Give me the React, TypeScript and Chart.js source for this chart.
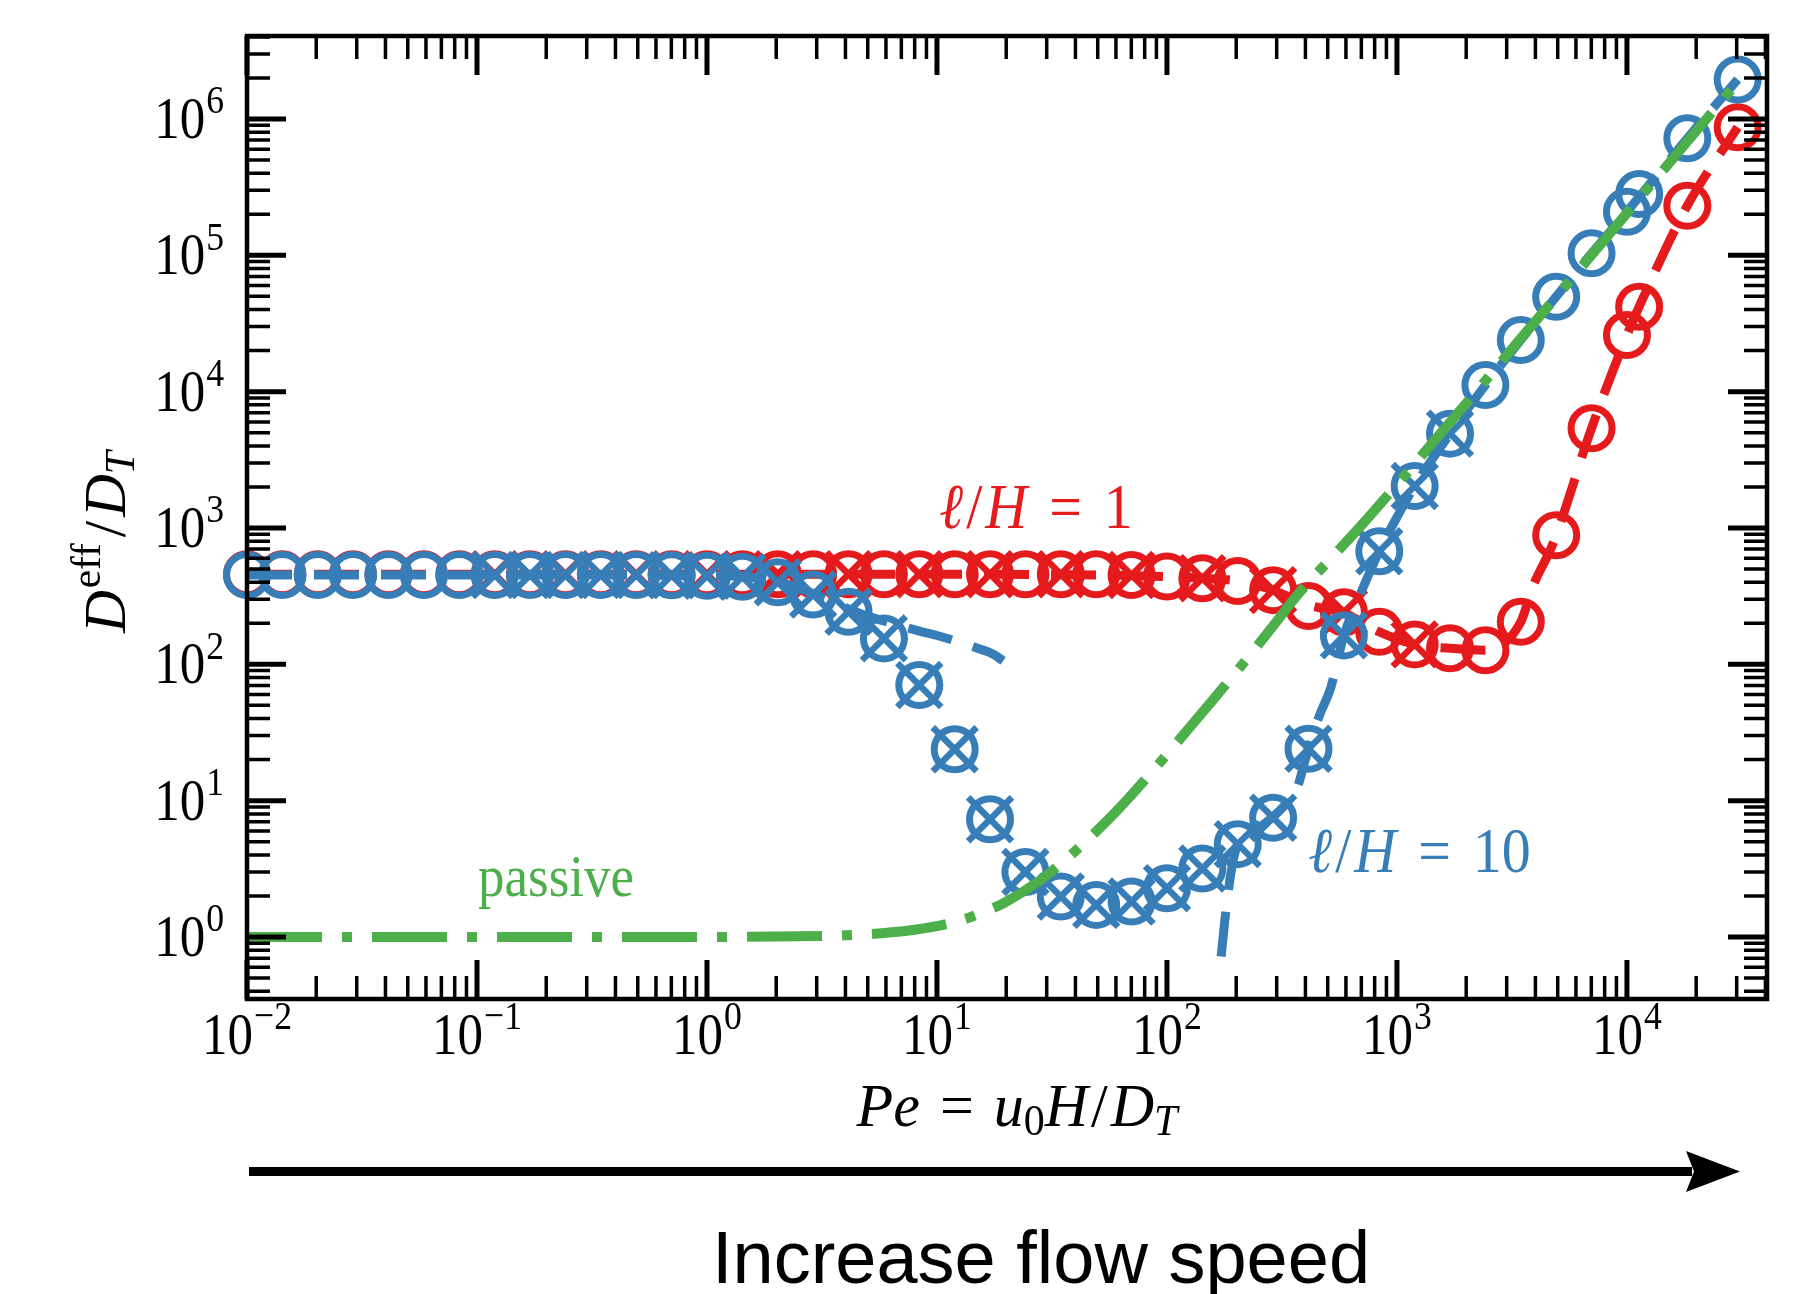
import React, { useEffect, useRef } from "react";
import { Chart, registerables } from "chart.js";

Chart.register(...registerables);

const W = 1793;
const H = 1294;

const RED = "#e41a1c";
const BLUE = "#377eb8";
const GREEN = "#4daf4a";

// Pe grid of the simulated points
const peGrid = [
  0.01, 0.01425, 0.0203, 0.0289, 0.0412, 0.0588, 0.0838, 0.1194, 0.17, 0.2424,
  0.3455, 0.4924, 0.7017, 1.0, 1.425, 2.031, 2.894, 4.125, 5.878, 8.377, 11.94,
  17.01, 24.24, 34.55, 49.24, 70.17, 100, 142.5, 203.1, 289.4, 412.5, 587.8,
  837.7, 1194, 1701, 2424, 3455, 4924, 7017, 10000, 11300, 18300, 30300,
];

// l/H = 10 (blue) circles
const blueCircles = [
  452, 452, 452, 452, 452, 452, 452, 452, 452, 452, 452, 452, 450, 446, 438, 400,
  325, 243, 155, 70.5, 23.8, 7.3, 3.0, 1.98, 1.72, 1.82, 2.28, 3.18, 4.8, 7.5, 24,
  163, 675, 2030, 4920, 11170, 23900, 49700, 103500, 209000, 282000, 722000,
  1950000,
];

// l/H = 1 (red) circles
const redCircles = [
  458, 458, 458, 458, 458, 458, 458, 458, 458, 458, 458, 458, 458, 458, 458, 458,
  458, 458, 458, 458, 458, 458, 458, 458, 457, 452, 440, 428, 408, 350, 268, 241,
  173, 140, 131, 127, 205, 885, 5390, 26000, 42000, 231000, 870000,
];

// indices of the grid that also carry an "x" marker
const blueCrossIdx = [
  7, 8, 9, 10, 11, 12, 13, 14, 15, 16, 17, 18, 19, 20, 21, 22, 23, 24, 25, 26, 27,
  28, 29, 30, 31, 32, 33, 34,
];
const redCrossIdx = [7, 9, 11, 13, 15, 17, 19, 21, 23, 25, 27, 29, 31, 33];

// theory curves
const redTheoryPe = [
  0.01, 1, 10, 50, 100, 142.5, 203.1, 289.4, 412.5, 587.8, 837.7, 1194, 1701, 2424,
  3455, 3890, 4780, 7017, 10000, 11300, 18300, 30300,
];
const redTheoryVals = [
  458, 458, 458, 452, 440, 428, 408, 350, 272, 238, 173, 140, 131, 127, 205, 369,
  776, 5390, 26000, 42000, 231000, 870000,
];

const blueLowPe = [
  0.01, 0.1, 0.5, 1, 1.425, 2.031, 2.894, 4.125, 5.0, 5.88, 7.3, 8.3, 10.1, 12.6,
  15.7, 17.5, 19.4,
];
const blueLowVals = [
  452, 452, 451, 447, 440, 405, 330, 255, 225, 208, 187, 176, 162, 145, 128, 119,
  106,
];

const blueHighPe = [
  172, 180, 190, 203, 240, 289, 330, 363, 412, 460, 515, 587.8, 700, 837.7, 1000,
  1194, 1701, 2424, 3455, 4924, 7017, 10000, 18300, 30300,
];
const blueHighVals = [
  0.72, 1.5, 3.0, 4.8, 6.0, 7.6, 9.5, 11.6, 24, 42, 67, 163, 340, 675, 1200, 2030,
  4920, 11170, 23900, 49700, 103500, 209000, 722000, 1950000,
];

const passivePe = [
  0.01, 1, 2, 4.6, 8, 12.6, 17.1, 19.6, 28, 37.6, 52, 70, 93, 121, 160, 216, 280,
  376, 500, 697, 1000, 1500, 2370, 3430, 5000, 7030, 10000, 13000, 17600, 30000,
];
const passiveVals = [
  1, 1, 1.01, 1.04, 1.13, 1.32, 1.6, 1.78, 2.6, 3.9, 6.5, 11, 19, 32, 56, 103,
  178, 335, 565, 1035, 2080, 4650, 11500, 24200, 51000, 101000, 204000, 345000,
  632000, 1830000,
];

// axes
const xMin = 0.01;
const xMax = 40640;
const yMin = 0.351;
const yMax = 4.06e6;
const xMajorExp = [-2, -1, 0, 1, 2, 3, 4];
const yMajorExp = [0, 1, 2, 3, 4, 5, 6];
const xMinorDecades = [-2, -1, 0, 1, 2, 3, 4];
const yMinorDecades = [-1, 0, 1, 2, 3, 4, 5, 6];
const minorMult = [2, 3, 4, 5, 6, 7, 8, 9];

const pts = (xs: number[], ys: number[]) => xs.map((x, i) => ({ x, y: ys[i] }));
const pick = (idx: number[], ys: number[]) => idx.map((k) => ({ x: peGrid[k], y: ys[k] }));

type Run = { t: string; it?: boolean; sc?: "sup" | "sub"; sp?: number };
const SERIF = '"Liberation Serif", "Times New Roman", serif';

function drawRuns(
  ctx: CanvasRenderingContext2D,
  runs: Run[],
  x: number,
  y: number,
  o: { size: number; color: string; align?: "left" | "center" | "right"; sy?: number; rot?: number }
) {
  const fontFor = (r: Run) =>
    `${r.it ? "italic " : ""}${r.sc ? o.size * 0.7 : o.size}px ${SERIF}`;
  const widths: number[] = [];
  let total = 0;
  for (const r of runs) {
    ctx.font = fontFor(r);
    const w = ctx.measureText(r.t).width;
    widths.push(w);
    total += (r.sp ?? 0) + w;
  }
  ctx.save();
  ctx.translate(x, y);
  if (o.rot) ctx.rotate(o.rot);
  ctx.scale(1, o.sy ?? 1);
  ctx.fillStyle = o.color;
  ctx.textAlign = "left";
  ctx.textBaseline = "alphabetic";
  let cx = o.align === "center" ? -total / 2 : o.align === "right" ? -total : 0;
  runs.forEach((r, i) => {
    cx += r.sp ?? 0;
    ctx.font = fontFor(r);
    const dy = r.sc === "sup" ? -o.size * 0.42 : r.sc === "sub" ? o.size * 0.15 : 0;
    ctx.fillText(r.t, cx, dy);
    cx += widths[i];
  });
  ctx.restore();
}

const expText = (e: number) => (e < 0 ? "\u2212" + Math.abs(e) : String(e));

const framePlugin = {
  id: "frameTicks",
  beforeDraw(chart: any) {
    const ctx = chart.ctx as CanvasRenderingContext2D;
    ctx.save();
    ctx.fillStyle = "#fff";
    ctx.fillRect(0, 0, chart.width, chart.height);
    ctx.restore();
  },
  afterDatasetsDraw(chart: any) {
    const ctx = chart.ctx as CanvasRenderingContext2D;
    const { left, right, top, bottom } = chart.chartArea;
    const xs = chart.scales.x;
    const ys = chart.scales.y;
    const majLen = 39;
    const minLen = 23;
    ctx.save();
    ctx.strokeStyle = "#000";
    ctx.lineCap = "butt";
    const vTick = (v: number, len: number, lw: number) => {
      const px = xs.getPixelForValue(v);
      if (px < left - 0.5 || px > right + 0.5) return;
      ctx.lineWidth = lw;
      ctx.beginPath();
      ctx.moveTo(px, bottom);
      ctx.lineTo(px, bottom - len);
      ctx.moveTo(px, top);
      ctx.lineTo(px, top + len);
      ctx.stroke();
    };
    const hTick = (v: number, len: number, lw: number) => {
      const py = ys.getPixelForValue(v);
      if (py < top - 0.5 || py > bottom + 0.5) return;
      ctx.lineWidth = lw;
      ctx.beginPath();
      ctx.moveTo(left, py);
      ctx.lineTo(left + len, py);
      ctx.moveTo(right, py);
      ctx.lineTo(right - len, py);
      ctx.stroke();
    };
    for (const d of xMinorDecades) for (const m of minorMult) vTick(m * Math.pow(10, d), minLen, 3.5);
    for (const d of yMinorDecades) for (const m of minorMult) hTick(m * Math.pow(10, d), minLen, 3.5);
    for (const e of xMajorExp) vTick(Math.pow(10, e), majLen, 5);
    for (const e of yMajorExp) hTick(Math.pow(10, e), majLen, 5);
    ctx.lineWidth = 4.5;
    ctx.strokeRect(left, top, right - left, bottom - top);
    ctx.restore();
  },
  afterDraw(chart: any) {
    const ctx = chart.ctx as CanvasRenderingContext2D;
    const xs = chart.scales.x;
    const ys = chart.scales.y;
    const { left } = chart.chartArea;
    // tick labels
    for (const e of xMajorExp) {
      const px = xs.getPixelForValue(Math.pow(10, e));
      drawRuns(ctx, [{ t: "10" }, { t: expText(e), sc: "sup", sp: 1 }], px, 1054, {
        size: 51,
        color: "#000",
        align: "center",
        sy: 1.15,
      });
    }
    for (const e of yMajorExp) {
      const py = ys.getPixelForValue(Math.pow(10, e));
      drawRuns(ctx, [{ t: "10" }, { t: expText(e), sc: "sup", sp: 1 }], left - 23, py + 19, {
        size: 51,
        color: "#000",
        align: "right",
        sy: 1.15,
      });
    }
    // axis titles
    drawRuns(
      ctx,
      [
        { t: "Pe", it: true },
        { t: "=", sp: 20 },
        { t: "u", it: true, sp: 20 },
        { t: "0", sc: "sub" },
        { t: "H", it: true },
        { t: "/", sp: 3 },
        { t: "D", it: true, sp: 3 },
        { t: "T", it: true, sc: "sub" },
      ],
      1017,
      1126,
      { size: 60, color: "#000", align: "center", sy: 1.03 }
    );
    drawRuns(
      ctx,
      [
        { t: "D", it: true },
        { t: "eff", sc: "sup", sp: 2 },
        { t: "/", sp: 6 },
        { t: "D", it: true, sp: 4 },
        { t: "T", it: true, sc: "sub" },
      ],
      125,
      542,
      { size: 59, color: "#000", align: "center", rot: -Math.PI / 2 }
    );
    // annotations
    const lh = (n: string): Run[] => [
      { t: "\u2113", it: true },
      { t: "/", sp: 3 },
      { t: "H", it: true, sp: 3 },
      { t: "=", sp: 22 },
      { t: n, sp: 22 },
    ];
    drawRuns(ctx, lh("1"), 939, 528, { size: 58, color: RED, sy: 1.1 });
    drawRuns(ctx, lh("10"), 1308, 872, { size: 58, color: BLUE, sy: 1.1 });
    drawRuns(ctx, [{ t: "passive" }], 478, 896, { size: 53, color: GREEN, sy: 1.12 });

    // arrow
    ctx.save();
    ctx.fillStyle = "#000";
    ctx.fillRect(249, 1167, 1692 - 249, 9);
    ctx.beginPath();
    ctx.moveTo(1686, 1151);
    ctx.lineTo(1740, 1171.5);
    ctx.lineTo(1686, 1192);
    ctx.lineTo(1694, 1171.5);
    ctx.closePath();
    ctx.fill();
    ctx.font = '74px "Liberation Sans", Arial, sans-serif';
    ctx.textAlign = "center";
    ctx.textBaseline = "alphabetic";
    ctx.fillText("Increase flow speed", 1041, 1283);
    ctx.restore();
  },
};

export default function App() {
  const ref = useRef<HTMLCanvasElement | null>(null);
  useEffect(() => {
    if (!ref.current) return;
    const lineDs = (label: string, data: any[], color: string, dash: number[], width: number) => ({
      label,
      data,
      showLine: true,
      borderColor: color,
      borderWidth: width,
      borderDash: dash,
      pointRadius: 0,
      fill: false,
      tension: 0,
      cubicInterpolationMode: "monotone" as const,
    });
    const markDs = (label: string, data: any[], color: string, style: string, r: number, bw: number) => ({
      label,
      data,
      showLine: false,
      pointStyle: style,
      pointRadius: r,
      pointBorderWidth: bw,
      pointBorderColor: color,
      pointBackgroundColor: "rgba(0,0,0,0)",
      borderColor: color,
      backgroundColor: "rgba(0,0,0,0)",
      clip: false as any,
    });
    const chart = new Chart(ref.current, {
      type: "scatter",
      data: {
        datasets: [
          lineDs("passive", pts(passivePe, passiveVals), GREEN, [75, 20, 10, 20], 10),
          lineDs("l/H=10 theory low", pts(blueLowPe, blueLowVals), BLUE, [45, 22], 9),
          lineDs("l/H=10 theory high", pts(blueHighPe, blueHighVals), BLUE, [45, 22], 9),
          markDs("l/H=10 x", pick(blueCrossIdx, blueCircles), BLUE, "crossRot", 31, 6.5),
          markDs("l/H=10 o", pts(peGrid, blueCircles), BLUE, "circle", 20.5, 7),
          lineDs("l/H=1 theory", pts(redTheoryPe, redTheoryVals), RED, [45, 22], 9),
          markDs("l/H=1 x", pick(redCrossIdx, redCircles), RED, "crossRot", 31, 6.5),
          markDs("l/H=1 o", pts(peGrid, redCircles), RED, "circle", 20.5, 7),
        ] as any,
      },
      options: {
        responsive: false,
        animation: false,
        devicePixelRatio: 1,
        events: [],
        layout: { autoPadding: false, padding: { left: 247, top: 36, right: 26, bottom: 295 } },
        plugins: { legend: { display: false }, tooltip: { enabled: false } },
        scales: {
          x: {
            type: "logarithmic",
            min: xMin,
            max: xMax,
            display: false,
            afterBuildTicks: (s: any) => {
              s.min = xMin;
              s.max = xMax;
            },
          },
          y: {
            type: "logarithmic",
            min: yMin,
            max: yMax,
            display: false,
            afterBuildTicks: (s: any) => {
              s.min = yMin;
              s.max = yMax;
            },
          },
        },
      } as any,
      plugins: [framePlugin],
    });
    return () => chart.destroy();
  }, []);
  return (
    <div style={{ position: "fixed", left: 0, top: 0, width: W, height: H, background: "#fff" }}>
      <canvas ref={ref} width={W} height={H} style={{ display: "block", width: W, height: H }} />
    </div>
  );
}
